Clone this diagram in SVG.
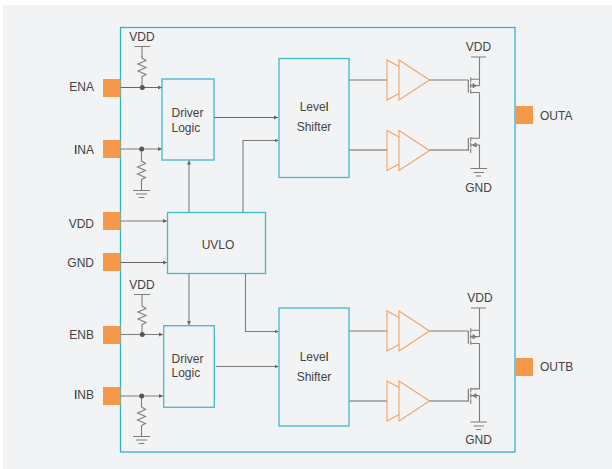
<svg xmlns="http://www.w3.org/2000/svg" width="612" height="469" viewBox="0 0 612 469">
<style>
text{font-family:"Liberation Sans",Arial,sans-serif;fill:#444;font-size:12px}
.m{text-anchor:middle}.e{text-anchor:end}
.i{fill:#111}
.box{fill:#f2f3f5;stroke:#3dbccb;stroke-width:1.3}
.pad{fill:#f6984a}
.w{fill:none;stroke:#7d7d7d;stroke-width:1.1}
.d{fill:none;stroke:#666;stroke-width:1}
.b{fill:none;stroke:#f4a262;stroke-width:1.1;stroke-linejoin:miter}
.dot{fill:#555}
</style>
<defs>
<marker id="a" markerUnits="userSpaceOnUse" markerWidth="5" markerHeight="5" refX="4" refY="2.5" orient="auto"><path d="M0 .5L4 2.5L0 4.5z" fill="#666"/></marker>
<g id="res"><path class="w" d="M0 0V2L4 4.500L-4 8L4 11.500L-4 15L4 18.500L0 20.500V22"/></g>
<g id="gnd"><path class="w" d="M-8.500 0H8.500M-5.500 3.500H5.500M-2.800 7H2.800"/></g>
<g id="buf"><path class="b" d="M12 6.500L0 0V40L12 33.500"/><path class="b" d="M12 0L42.500 20L12 40Z"/></g>
<g id="pm"><path class="d" d="M-11.200 -6V7"/><path class="w" d="M-8.800 -8.500V-3.500M-8.800 -2.500V2.500M-8.800 3.500V8M-8.800 -6.500H0M-8.800 6.800H0"/><path class="d" d="M-8.800 0H0M-6.500 -2L-3.500 0L-6.500 2Z"/></g>
<g id="nm"><path class="d" d="M-11.200 -7V6"/><path class="w" d="M-8.800 -8V-3.500M-8.800 -2.500V2.500M-8.800 3.500V8M-8.800 -6.800H0"/><path class="d" d="M-8.800 0H0M-3.500 -2L-6.500 0L-3.500 2Z"/></g>
</defs>
<rect width="612" height="469" fill="#fff"/>
<rect x="3" y="5" width="609" height="464" fill="#f2f3f5"/>
<rect id="chip" x="120.500" y="27.500" width="394.500" height="424.500" fill="none" stroke="#2fb6c6" stroke-width="1.300"/>
<g id="connectors">
<path class="d" marker-end="url(#a)" d="M120 87.500H162"/>
<path class="w" marker-end="url(#a)" d="M120 149H162"/>
<path class="d" d="M214 117.500H278" marker-end="url(#a)"/>
<path class="w" marker-end="url(#a)" d="M189 212V160.500"/>
<path class="w" marker-end="url(#a)" d="M243 212V140.500H278.500"/>
<path class="w" marker-end="url(#a)" d="M120 221H167"/>
<path class="d" marker-end="url(#a)" d="M120 262.500H167"/>
<path class="w" marker-end="url(#a)" d="M189 273V325"/>
<path class="w" marker-end="url(#a)" d="M245.500 273V331.500H278.500"/>
<path class="w" marker-end="url(#a)" d="M120 334.500H163"/>
<path class="w" marker-end="url(#a)" d="M120 396H163"/>
<path class="w" marker-end="url(#a)" d="M216 366.500H278.500"/>
<path class="d" d="M349 150H387M349 401H387"/>
<path class="w" d="M349 80H387M349 331H387"/>
<path class="w" d="M429 80H468M429 331H468"/>
<path class="d" d="M429 150H468M429 401H468"/>
<path class="w" d="M134.500 46.500H150M142 46.500V57"/><use href="#res" x="142" y="56"/><path class="w" d="M142 78V87.500"/>
<path class="w" d="M141.500 149V159"/><use href="#res" x="141.500" y="159"/><path class="w" d="M141.500 181V191"/><use href="#gnd" x="141.500" y="190.500"/>
<path class="w" d="M134 294.500H150M142 294.500V304"/><use href="#res" x="142" y="304"/><path class="w" d="M142 326V334.500"/>
<path class="w" d="M141.500 396V405"/><use href="#res" x="141.500" y="405"/><path class="w" d="M141.500 427V436"/><use href="#gnd" x="141.500" y="436.500"/>
<circle class="dot" cx="142.300" cy="87.500" r="2.500"/><circle class="dot" cx="141.700" cy="149" r="2.500"/><circle class="dot" cx="142.300" cy="334.500" r="2.500"/><circle class="dot" cx="141.700" cy="396" r="2.500"/>
</g>
<g id="vdd-a"><text class="m" x="142" y="41">VDD</text></g>
<g id="vdd-b"><text class="m" x="142" y="289">VDD</text></g>
<g id="pad-ena"><rect class="pad" x="103" y="79" width="17.500" height="18"/><text class="e" x="94" y="90.500">ENA</text></g>
<g id="pad-ina"><rect class="pad" x="103" y="140" width="17.500" height="18"/><text class="e" x="94" y="153.500"><tspan class="i">I</tspan>NA</text></g>
<g id="pad-vdd"><rect class="pad" x="103" y="212" width="17.500" height="18"/><text class="e" x="94" y="227.500">VDD</text></g>
<g id="pad-gnd"><rect class="pad" x="103" y="253" width="17.500" height="18"/><text class="e" x="94" y="266.500">GND</text></g>
<g id="pad-enb"><rect class="pad" x="103" y="326" width="17.500" height="18"/><text class="e" x="94" y="338.500">ENB</text></g>
<g id="pad-inb"><rect class="pad" x="103" y="387" width="17.500" height="18"/><text class="e" x="94" y="398.500"><tspan class="i">I</tspan>NB</text></g>
<g id="pad-outa"><rect class="pad" x="515.500" y="106" width="17.500" height="18"/><text x="540" y="120">OUTA</text></g>
<g id="pad-outb"><rect class="pad" x="515.500" y="358" width="17.500" height="18"/><text x="540" y="370.500">OUTB</text></g>
<g id="driver-a"><rect class="box" x="162" y="79" width="52" height="81"/><text x="171.500" y="117">Driver</text><text x="171.500" y="131.500">Logic</text></g>
<g id="driver-b"><rect class="box" x="163.700" y="325.700" width="50.600" height="81.600"/><text x="171.500" y="362.500">Driver</text><text x="171.500" y="377">Logic</text></g>
<g id="uvlo"><rect class="box" x="167.500" y="212.500" width="98" height="61"/><text class="m" x="218" y="249">UVLO</text></g>
<g id="shifter-a"><rect class="box" x="279" y="58.500" width="70" height="119"/><text class="m" x="314" y="111"><tspan>Leve</tspan><tspan class="i">l</tspan></text><text class="m" x="314" y="130.500">Shifter</text></g>
<g id="shifter-b"><rect class="box" x="279" y="308" width="70" height="118"/><text class="m" x="314" y="361"><tspan>Leve</tspan><tspan class="i">l</tspan></text><text class="m" x="314" y="381">Shifter</text></g>
<g id="buffers-a"><use href="#buf" x="387" y="60"/><use href="#buf" x="387" y="130.500"/></g>
<g id="buffers-b"><use href="#buf" x="387" y="311"/><use href="#buf" x="387" y="381"/></g>
<g id="output-a"><text class="m" x="478.500" y="50.500">VDD</text><path class="w" d="M471 57H486M479.500 57V85.700M479.500 92.500V138.200M479.500 145V168M470.500 168.500H487M473.500 172.500H484M476 176H481"/><use href="#pm" x="479.500" y="85.700"/><use href="#nm" x="479.500" y="145"/><text class="m" x="478.500" y="191.500">GND</text></g>
<g id="output-b"><text class="m" x="480" y="302">VDD</text><path class="w" d="M471 308H486M479.500 308V336.700M479.500 343.500V389M479.500 395.700V421.500M470.500 422H487M473.500 426H484M476 429.500H481"/><use href="#pm" x="479.500" y="336.700"/><use href="#nm" x="479.500" y="395.700"/><text class="m" x="478.500" y="444">GND</text></g>
</svg>
